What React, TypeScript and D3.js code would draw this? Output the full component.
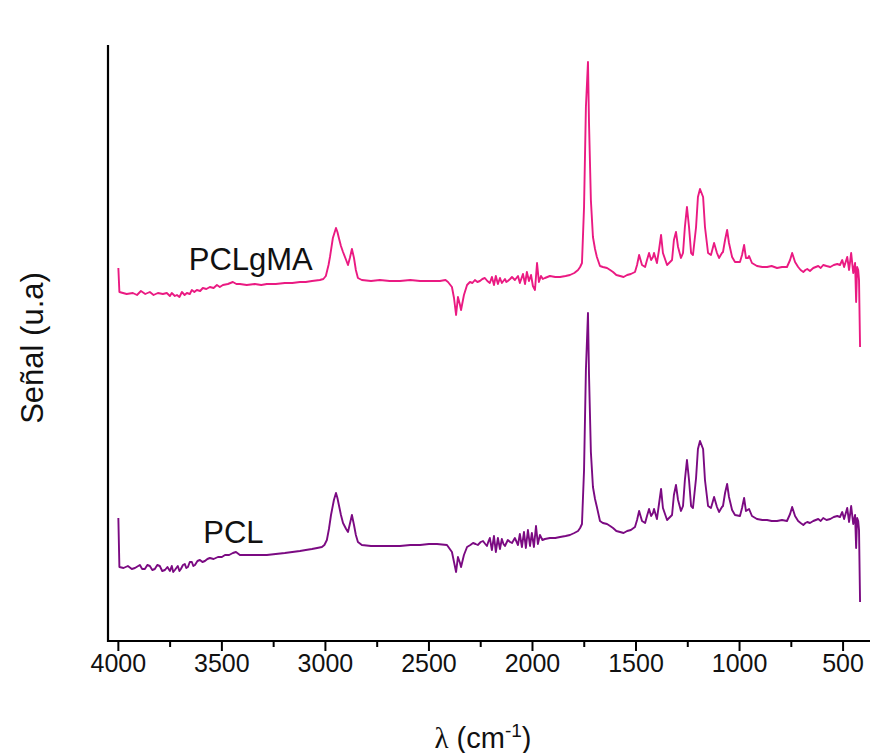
import React from "react";
import * as d3 from "d3";

// FTIR spectra: [wavenumber (cm-1), signal (a.u.)]
const pclgmaSpectrum: [number, number][] = [
  [4000, 373], [3995, 349], [3960, 347], [3930, 348], [3910, 346], [3891, 350], [3870, 347],
  [3848, 349], [3830, 346], [3809, 348], [3785, 347], [3766, 348], [3751, 345], [3742, 348],
  [3727, 345], [3717, 346], [3705, 344], [3693, 349], [3680, 346], [3669, 348], [3655, 347],
  [3645, 351], [3633, 349], [3621, 351], [3605, 350], [3592, 353], [3575, 352], [3558, 354],
  [3540, 353], [3524, 356], [3510, 354], [3495, 356], [3471, 357], [3447, 359], [3430, 357],
  [3413, 357], [3380, 356], [3341, 357], [3310, 356], [3283, 357], [3240, 357], [3196, 358],
  [3160, 358], [3123, 359], [3095, 359], [3065, 360], [3027, 361], [3010, 362],
  [2998, 365], [2985, 376], [2978, 384], [2964, 403], [2949, 413], [2942, 409], [2935, 403],
  [2925, 395], [2915, 389], [2900, 381], [2891, 376], [2882, 383], [2872, 392], [2862, 383],
  [2853, 371], [2843, 363], [2824, 361], [2780, 360], [2737, 361], [2690, 360], [2640, 360],
  [2590, 361], [2543, 360], [2490, 360], [2447, 360], [2420, 361], [2408, 359], [2389, 354],
  [2379, 343], [2369, 326], [2360, 344], [2350, 336], [2345, 331], [2331, 346], [2316, 356],
  [2302, 359], [2290, 358], [2278, 361], [2266, 359], [2254, 360], [2242, 362], [2230, 363],
  [2218, 360], [2206, 358], [2196, 364], [2186, 356], [2177, 365], [2167, 357], [2157, 363],
  [2148, 358], [2133, 362], [2126, 359], [2119, 360], [2108, 362], [2099, 364], [2085, 361],
  [2070, 365], [2061, 358], [2046, 367], [2036, 357], [2027, 369], [2017, 360], [2007, 366],
  [1998, 355], [1988, 351], [1978, 378], [1969, 359], [1959, 365], [1950, 362], [1940, 363],
  [1916, 365], [1890, 364], [1867, 364], [1840, 365], [1819, 366], [1798, 368], [1780, 371],
  [1770, 374], [1761, 378], [1751, 434], [1742, 534], [1732, 579], [1727, 518], [1718, 441],
  [1708, 404], [1698, 392], [1689, 384], [1674, 375], [1660, 374], [1640, 373], [1625, 371],
  [1611, 369], [1595, 366], [1577, 365], [1560, 364], [1543, 366], [1525, 367], [1505, 369],
  [1495, 376], [1485, 386], [1471, 376], [1456, 374], [1447, 381], [1437, 388], [1427, 381],
  [1418, 384], [1413, 388], [1399, 378], [1389, 391], [1379, 406], [1370, 388], [1350, 376],
  [1326, 381], [1317, 401], [1307, 409], [1297, 394], [1283, 383], [1273, 388], [1264, 414],
  [1254, 434], [1244, 414], [1234, 388], [1225, 386], [1210, 414], [1201, 444], [1191, 452],
  [1176, 444], [1167, 414], [1152, 388], [1138, 386], [1123, 398], [1109, 388], [1099, 383],
  [1085, 388], [1080, 389], [1070, 401], [1060, 411], [1051, 398], [1036, 384], [1022, 379],
  [998, 379], [988, 386], [978, 396], [969, 383], [959, 383], [954, 385], [940, 378],
  [916, 375], [890, 374], [867, 374], [845, 375], [819, 373], [795, 374], [771, 374],
  [756, 381], [746, 388], [732, 379], [717, 374], [705, 371], [692, 369], [682, 371],
  [673, 372], [660, 370], [644, 373], [632, 374], [620, 375], [608, 373], [596, 376],
  [580, 375], [562, 374], [545, 376], [528, 377], [515, 376], [504, 381], [495, 374],
  [480, 384], [471, 371], [461, 388], [451, 368], [442, 378], [437, 339], [432, 374],
  [427, 371], [423, 361], [418, 294],
];

const pclSpectrum: [number, number][] = [
  [4000, 123], [3995, 74], [3975, 73], [3954, 75], [3935, 72], [3920, 73], [3896, 76],
  [3885, 72], [3872, 72], [3860, 76], [3848, 75], [3836, 71], [3824, 72], [3812, 76],
  [3800, 75], [3788, 70], [3775, 71], [3763, 74], [3751, 70], [3742, 75], [3735, 69],
  [3727, 71], [3713, 75], [3705, 70], [3698, 72], [3688, 76], [3679, 77], [3672, 73],
  [3664, 74], [3655, 79], [3645, 79], [3638, 75], [3630, 76], [3618, 80], [3606, 81],
  [3594, 79], [3582, 80], [3570, 82], [3558, 83], [3540, 82], [3519, 84], [3500, 84],
  [3485, 86], [3465, 86], [3447, 88], [3432, 89], [3413, 86], [3380, 86], [3341, 86],
  [3310, 86], [3283, 86], [3240, 87], [3196, 88], [3160, 89], [3123, 90], [3095, 91],
  [3065, 92], [3040, 93], [3017, 94], [3005, 96], [2993, 101], [2983, 112], [2973, 126],
  [2959, 141], [2949, 148], [2942, 143], [2935, 136], [2925, 126], [2915, 118], [2900, 112],
  [2891, 109], [2882, 117], [2872, 126], [2862, 116], [2853, 106], [2843, 99], [2824, 96],
  [2780, 95], [2737, 95], [2690, 95], [2640, 95], [2590, 96], [2543, 96], [2500, 97],
  [2461, 97], [2413, 96], [2389, 89], [2379, 79], [2369, 69], [2360, 84], [2350, 78],
  [2345, 74], [2331, 86], [2316, 94], [2300, 96], [2287, 98], [2275, 97], [2264, 96],
  [2250, 99], [2239, 100], [2228, 97], [2220, 95], [2212, 100], [2206, 103], [2196, 91],
  [2186, 105], [2177, 89], [2167, 103], [2157, 92], [2148, 102], [2140, 97], [2133, 95],
  [2119, 101], [2108, 99], [2099, 98], [2085, 103], [2070, 96], [2061, 107], [2051, 94],
  [2041, 109], [2032, 93], [2022, 111], [2012, 95], [2003, 108], [1993, 94], [1983, 115],
  [1974, 97], [1964, 106], [1952, 101], [1940, 102], [1916, 103], [1890, 103], [1867, 104],
  [1840, 105], [1819, 106], [1798, 108], [1780, 110], [1770, 113], [1761, 117], [1751, 171],
  [1742, 271], [1732, 328], [1727, 266], [1718, 189], [1708, 154], [1698, 142], [1689, 134],
  [1674, 120], [1660, 118], [1640, 117], [1625, 115], [1611, 113], [1595, 110], [1577, 109],
  [1560, 108], [1543, 110], [1525, 111], [1505, 114], [1495, 121], [1485, 130], [1471, 120],
  [1456, 118], [1447, 125], [1437, 132], [1427, 125], [1418, 128], [1413, 132], [1399, 122],
  [1389, 137], [1379, 152], [1370, 133], [1350, 121], [1326, 126], [1317, 146], [1307, 156],
  [1297, 141], [1283, 130], [1273, 135], [1264, 161], [1254, 181], [1244, 161], [1234, 135],
  [1225, 133], [1210, 163], [1201, 192], [1191, 200], [1176, 192], [1167, 161], [1152, 135],
  [1138, 133], [1123, 144], [1109, 134], [1099, 129], [1085, 134], [1080, 135], [1070, 148],
  [1060, 157], [1051, 144], [1036, 131], [1022, 126], [998, 125], [988, 133], [978, 143],
  [969, 130], [954, 132], [940, 125], [916, 122], [890, 121], [867, 121], [845, 120],
  [819, 120], [795, 121], [771, 120], [756, 127], [746, 134], [732, 125], [717, 120],
  [705, 118], [692, 116], [682, 118], [673, 119], [660, 118], [644, 120], [632, 121],
  [620, 122], [608, 120], [596, 123], [580, 121], [562, 122], [545, 124], [528, 125],
  [515, 124], [504, 129], [495, 122], [480, 133], [471, 119], [461, 135], [451, 117],
  [442, 126], [437, 93], [432, 123], [427, 120], [423, 111], [418, 39],
];

const majorTicks = [4000, 3500, 3000, 2500, 2000, 1500, 1000, 500];
const minorTicks = [3750, 3250, 2750, 2250, 1750, 1250, 750];

const series = [
  { name: "PCLgMA", labelAt: [3660, 371], color: "#ea1a82", data: pclgmaSpectrum },
  { name: "PCL", labelAt: [3590, 98], color: "#7b0a82", data: pclSpectrum },
];

const W = 870;
const H = 753;
const left = 108;
const right = 870;
const top = 45;
const bottom = 641;

export default function App() {
  const x = d3.scaleLinear().domain([4050, 370]).range([left, right]);
  const y = d3.scaleLinear().domain([0, 596]).range([bottom, top]);
  const line = d3
    .line<[number, number]>()
    .x((d) => x(d[0]))
    .y((d) => y(d[1]));

  const font = "'Liberation Sans', Arial, sans-serif";

  return (
    <svg
      width={W}
      height={H}
      style={{ position: "absolute", left: 0, top: 0, background: "#fff" }}
      fontFamily={font}
    >
      {series.map((s) => (
        <path
          key={s.name}
          d={line(s.data) || ""}
          fill="none"
          stroke={s.color}
          strokeWidth={1.9}
          strokeLinejoin="round"
        />
      ))}

      {/* axes */}
      <line x1={left} y1={top} x2={left} y2={bottom + 1} stroke="#000" strokeWidth={2.2} />
      <line x1={left - 1} y1={bottom} x2={right} y2={bottom} stroke="#000" strokeWidth={2.2} />
      {majorTicks.map((t) => (
        <g key={t}>
          <line x1={x(t)} x2={x(t)} y1={bottom} y2={bottom + 10} stroke="#000" strokeWidth={2} />
          <text x={x(t)} y={bottom + 31} textAnchor="middle" fontSize={25} fill="#111">
            {t}
          </text>
        </g>
      ))}
      {minorTicks.map((t) => (
        <line key={t} x1={x(t)} x2={x(t)} y1={bottom} y2={bottom + 6} stroke="#000" strokeWidth={2} />
      ))}

      {/* axis titles */}
      <text x={483} y={748} textAnchor="middle" fontSize={29} fill="#111">
        <tspan fontFamily="'Liberation Serif', 'DejaVu Serif', serif">λ</tspan> (cm
        <tspan dy={-11} fontSize={19}>-1</tspan>
        <tspan dy={11}>)</tspan>
      </text>
      <text
        transform={`translate(43, 348) rotate(-90)`}
        textAnchor="middle"
        fontSize={31}
        fill="#111"
      >
        Señal (u.a)
      </text>

      {/* series labels */}
      {series.map((s) => (
        <text key={s.name} x={x(s.labelAt[0])} y={y(s.labelAt[1])} fontSize={31} fill="#111">
          {s.name}
        </text>
      ))}
    </svg>
  );
}
